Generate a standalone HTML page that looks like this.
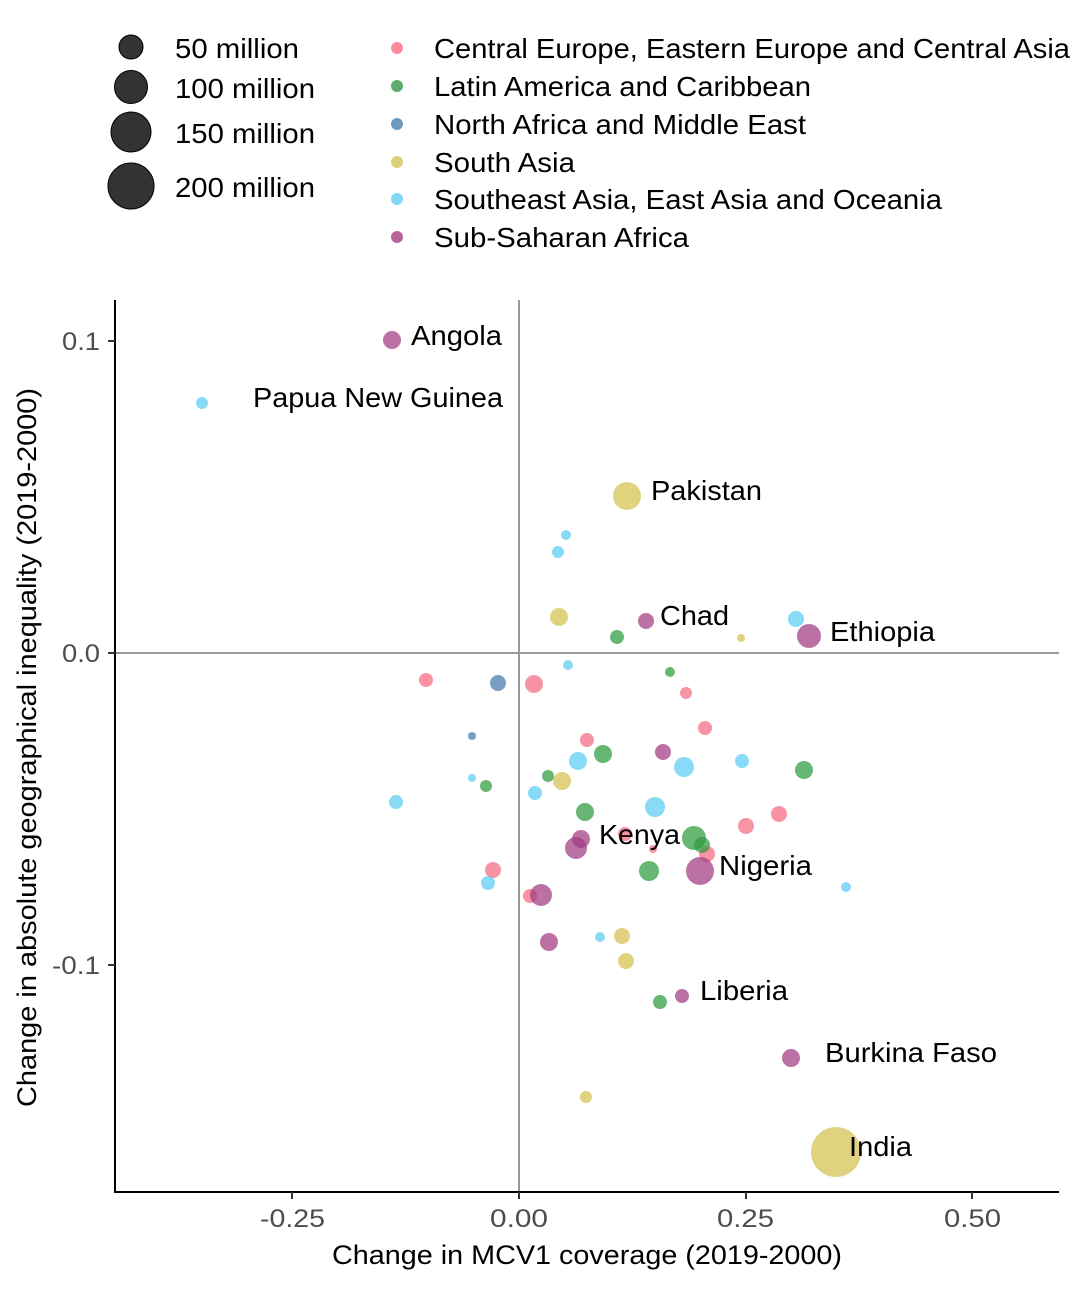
<!DOCTYPE html>
<html><head><meta charset="utf-8"><style>body{margin:0;background:#fff}</style></head><body>
<svg width="1075" height="1286" xmlns="http://www.w3.org/2000/svg" font-family="Liberation Sans, sans-serif">
<rect width="1075" height="1286" fill="#fff"/>
<g fill="#000" fill-opacity="0.8" stroke="#000" stroke-width="1">
<circle cx="131" cy="47" r="12"/><circle cx="131" cy="87" r="16.5"/><circle cx="131" cy="132" r="20"/><circle cx="131" cy="186" r="23"/>
</g>
<g font-size="28" fill="#000">
<text x="175" y="58" textLength="124" lengthAdjust="spacingAndGlyphs">50 million</text>
<text x="175" y="98" textLength="140" lengthAdjust="spacingAndGlyphs">100 million</text>
<text x="175" y="143" textLength="140" lengthAdjust="spacingAndGlyphs">150 million</text>
<text x="175" y="197" textLength="140" lengthAdjust="spacingAndGlyphs">200 million</text>
</g>
<g>
<circle cx="397" cy="48" r="6" fill="#F98C9A"/><circle cx="397" cy="86" r="6" fill="#5EAB6A"/><circle cx="397" cy="124" r="6" fill="#6E98C0"/>
<circle cx="397" cy="162" r="6" fill="#DDD07A"/><circle cx="397" cy="199" r="6" fill="#82D8F5"/><circle cx="397" cy="237" r="6" fill="#B9639B"/>
</g>
<g font-size="28" fill="#000">
<text x="434" y="58" textLength="636" lengthAdjust="spacingAndGlyphs">Central Europe, Eastern Europe and Central Asia</text>
<text x="434" y="96" textLength="377" lengthAdjust="spacingAndGlyphs">Latin America and Caribbean</text>
<text x="434" y="134" textLength="372" lengthAdjust="spacingAndGlyphs">North Africa and Middle East</text>
<text x="434" y="172" textLength="141" lengthAdjust="spacingAndGlyphs">South Asia</text>
<text x="434" y="209" textLength="508" lengthAdjust="spacingAndGlyphs">Southeast Asia, East Asia and Oceania</text>
<text x="434" y="247" textLength="255" lengthAdjust="spacingAndGlyphs">Sub-Saharan Africa</text>
</g>
<line x1="115" y1="653" x2="1059" y2="653" stroke="#999" stroke-width="2"/>
<line x1="519" y1="300" x2="519" y2="1192" stroke="#999" stroke-width="2"/>
<line x1="115" y1="300" x2="115" y2="1193" stroke="#000" stroke-width="2"/>
<line x1="114" y1="1192" x2="1059" y2="1192" stroke="#000" stroke-width="2"/>
<g stroke="#333" stroke-width="2">
<line x1="108" y1="341" x2="115" y2="341"/><line x1="108" y1="653" x2="115" y2="653"/><line x1="108" y1="965" x2="115" y2="965"/>
<line x1="292" y1="1192" x2="292" y2="1199"/><line x1="519" y1="1192" x2="519" y2="1199"/><line x1="746" y1="1192" x2="746" y2="1199"/><line x1="972" y1="1192" x2="972" y2="1199"/>
</g>
<g font-size="25" fill="#4D4D4D">
<text x="62" y="350" textLength="38" lengthAdjust="spacingAndGlyphs">0.1</text>
<text x="62" y="662" textLength="38" lengthAdjust="spacingAndGlyphs">0.0</text>
<text x="52" y="974" textLength="48" lengthAdjust="spacingAndGlyphs">-0.1</text>
<text x="260" y="1227" textLength="65" lengthAdjust="spacingAndGlyphs">-0.25</text>
<text x="490" y="1227" textLength="58" lengthAdjust="spacingAndGlyphs">0.00</text>
<text x="717" y="1227" textLength="57" lengthAdjust="spacingAndGlyphs">0.25</text>
<text x="944" y="1227" textLength="57" lengthAdjust="spacingAndGlyphs">0.50</text>
</g>
<text x="332" y="1264" font-size="27" fill="#000" textLength="510" lengthAdjust="spacingAndGlyphs">Change in MCV1 coverage (2019-2000)</text>
<text transform="translate(36,1107) rotate(-90)" font-size="27" fill="#000" textLength="719" lengthAdjust="spacingAndGlyphs">Change in absolute geographical inequality (2019-2000)</text>
<g fill="#F5697F" fill-opacity="0.72">
<circle cx="426" cy="680" r="7"/><circle cx="534" cy="684" r="9"/><circle cx="587" cy="740" r="7"/><circle cx="686" cy="693" r="6"/><circle cx="705" cy="728" r="7"/><circle cx="746" cy="826" r="8"/><circle cx="779" cy="814" r="8"/><circle cx="707" cy="854" r="8"/><circle cx="625" cy="834" r="7"/><circle cx="653" cy="849" r="4"/><circle cx="493" cy="870" r="8"/><circle cx="530" cy="896" r="7"/>
</g>
<g fill="#2E9A3E" fill-opacity="0.72">
<circle cx="617" cy="637" r="7"/><circle cx="670" cy="672" r="5"/><circle cx="603" cy="754" r="9"/><circle cx="548" cy="776" r="6"/><circle cx="486" cy="786" r="6"/><circle cx="585" cy="812" r="9"/><circle cx="804" cy="770" r="9"/><circle cx="694" cy="838" r="12"/><circle cx="702" cy="845" r="8"/><circle cx="649" cy="871" r="10"/><circle cx="660" cy="1002" r="7"/>
</g>
<g fill="#4477AA" fill-opacity="0.72">
<circle cx="498" cy="683" r="8"/><circle cx="472" cy="736" r="4"/>
</g>
<g fill="#D4C04E" fill-opacity="0.72">
<circle cx="627" cy="496" r="14"/><circle cx="559" cy="617" r="9"/><circle cx="741" cy="638" r="4"/><circle cx="562" cy="781" r="9"/><circle cx="622" cy="936" r="8"/><circle cx="626" cy="961" r="8"/><circle cx="586" cy="1097" r="6"/><circle cx="836" cy="1152" r="25"/>
</g>
<g fill="#5ACCF2" fill-opacity="0.72">
<circle cx="202" cy="403" r="6"/><circle cx="566" cy="535" r="5"/><circle cx="558" cy="552" r="6"/><circle cx="568" cy="665" r="5"/><circle cx="578" cy="761" r="9"/><circle cx="684" cy="767" r="10"/><circle cx="742" cy="761" r="7"/><circle cx="472" cy="778" r="4"/><circle cx="535" cy="793" r="7"/><circle cx="396" cy="802" r="7"/><circle cx="655" cy="807" r="10"/><circle cx="796" cy="619" r="8"/><circle cx="488" cy="883" r="7"/><circle cx="600" cy="937" r="5"/><circle cx="846" cy="887" r="5"/>
</g>
<g fill="#A23A82" fill-opacity="0.72">
<circle cx="392" cy="340" r="9"/><circle cx="646" cy="621" r="8"/><circle cx="809" cy="636" r="12"/><circle cx="663" cy="752" r="8"/><circle cx="581" cy="839" r="9"/><circle cx="576" cy="848" r="11"/><circle cx="700" cy="871" r="14"/><circle cx="541" cy="895" r="11"/><circle cx="549" cy="942" r="9"/><circle cx="682" cy="996" r="7"/><circle cx="791" cy="1058" r="9"/>
</g>
<g font-size="28" fill="#000">
<text x="411" y="345" textLength="91" lengthAdjust="spacingAndGlyphs">Angola</text>
<text x="253" y="407" textLength="250" lengthAdjust="spacingAndGlyphs">Papua New Guinea</text>
<text x="651" y="500" textLength="111" lengthAdjust="spacingAndGlyphs">Pakistan</text>
<text x="660" y="625" textLength="69" lengthAdjust="spacingAndGlyphs">Chad</text>
<text x="830" y="641" textLength="105" lengthAdjust="spacingAndGlyphs">Ethiopia</text>
<text x="599" y="844" textLength="81" lengthAdjust="spacingAndGlyphs">Kenya</text>
<text x="719" y="875" textLength="93" lengthAdjust="spacingAndGlyphs">Nigeria</text>
<text x="700" y="1000" textLength="88" lengthAdjust="spacingAndGlyphs">Liberia</text>
<text x="825" y="1062" textLength="172" lengthAdjust="spacingAndGlyphs">Burkina Faso</text>
<text x="849" y="1156" textLength="63" lengthAdjust="spacingAndGlyphs">India</text>
</g>
</svg>
</body></html>
